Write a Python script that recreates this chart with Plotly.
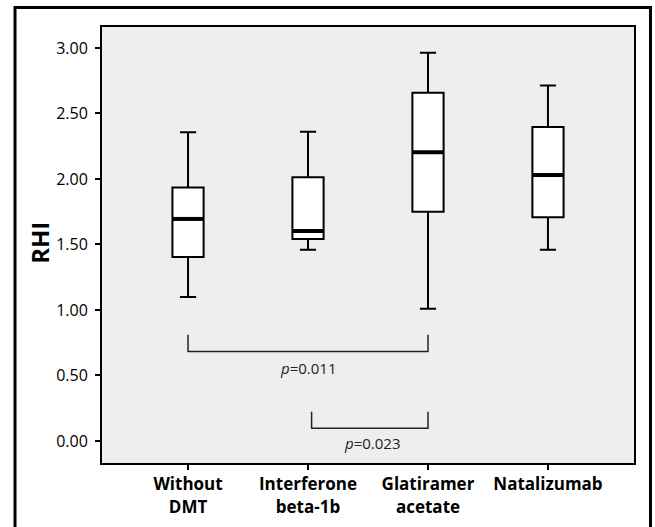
import plotly.graph_objects as go

# ---- data ----
categories = ["Without<br>DMT", "Interferone<br>beta-1b", "Glatiramer<br>acetate", "Natalizumab"]
lower_whisker = [1.10, 1.46, 1.01, 1.46]
q1_values = [1.405, 1.542, 1.750, 1.708]
medians = [1.695, 1.603, 2.204, 2.030]
q3_values = [1.934, 2.013, 2.659, 2.396]
upper_whisker = [2.356, 2.36, 2.964, 2.713]

y_tick_vals = [0.0, 0.5, 1.0, 1.5, 2.0, 2.5, 3.0]
y_tick_text = ["0.00", "0.50", "1.00", "1.50", "2.00", "2.50", "3.00"]

# significance brackets
bracket_from = [0, 1.03]
bracket_to = [2, 2]
bracket_top = [0.81, 0.224]
bracket_bottom = [0.683, 0.097]
bracket_labels = ["<i>p</i>=0.011", "<i>p</i>=0.023"]
label_x = [1.0, 1.54]
label_y = [0.555, -0.015]

BOX_W = 0.26
FONT = "Open Sans"

fig = go.Figure()
fig.add_trace(go.Box(
    x=list(range(len(categories))),
    q1=q1_values, median=medians, q3=q3_values,
    lowerfence=lower_whisker, upperfence=upper_whisker,
    width=BOX_W, whiskerwidth=0.52,
    fillcolor="white", line=dict(color="black", width=2),
    boxpoints=False, showlegend=False, hoverinfo="skip",
))

shapes = []
for i, m in enumerate(medians):
    shapes.append(dict(type="line", xref="x", yref="y",
                       x0=i - BOX_W / 2, x1=i + BOX_W / 2, y0=m, y1=m,
                       line=dict(color="black", width=4)))
for a, b, t, bt in zip(bracket_from, bracket_to, bracket_top, bracket_bottom):
    shapes.append(dict(type="path", xref="x", yref="y",
                       path=f"M {a},{t} L {a},{bt} L {b},{bt} L {b},{t}",
                       line=dict(color="#222222", width=1.5)))
shapes.append(dict(type="rect", xref="paper", yref="paper",
                   x0=-0.1635, x1=1.031, y0=-0.2, y1=1.045,
                   line=dict(color="black", width=3), fillcolor="rgba(0,0,0,0)",
                   layer="below"))

annotations = []
for txt, lx, ly in zip(bracket_labels, label_x, label_y):
    annotations.append(dict(x=lx, y=ly, xref="x", yref="y", text=txt,
                            showarrow=False, font=dict(family=FONT, size=15, color="#222222")))
annotations.append(dict(x=-0.1165, y=0.505, xref="paper", yref="paper", text="<b>RHI</b>",
                        textangle=-90, showarrow=False, xanchor="center", yanchor="middle",
                        font=dict(family=FONT, size=24, color="black")))

fig.update_layout(
    width=655, height=527,
    margin=dict(l=102, r=21, t=27, b=64, autoexpand=False),
    paper_bgcolor="white", plot_bgcolor="#eeeeee",
    shapes=shapes, annotations=annotations,
    font=dict(family=FONT, color="black"),
    xaxis=dict(range=[-0.717, 3.717], tickvals=list(range(len(categories))),
               ticktext=[f"<b>{c}</b>" for c in categories], automargin=False,
               showline=True, mirror=True, linecolor="black", linewidth=2,
               ticks="outside", ticklen=5, tickwidth=2, tickcolor="black",
               showgrid=False, zeroline=False, tickfont=dict(family=FONT, size=17, color="black")),
    yaxis=dict(range=[-0.168, 3.16], tickvals=y_tick_vals, ticktext=y_tick_text, automargin=False,
               showline=True, mirror=True, linecolor="black", linewidth=2,
               ticks="outside", ticklen=5, tickwidth=2, tickcolor="black", ticklabelstandoff=4,
               showgrid=False, zeroline=False, tickfont=dict(family=FONT, size=16, color="black")),
)

fig.write_html("out.html", config={"displayModeBar": False},
               post_script="document.body.style.margin='0';")
